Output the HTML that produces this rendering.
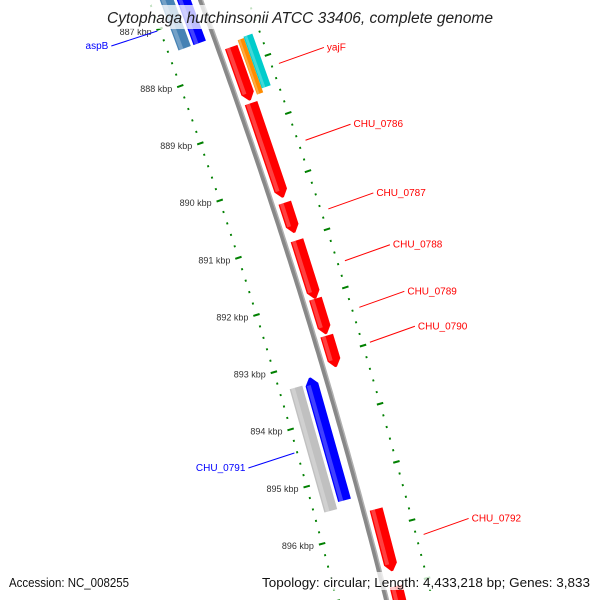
<!DOCTYPE html>
<html><head><meta charset="utf-8"><style>
body{margin:0;background:#fff;overflow:hidden}
svg{display:block;font-family:"Liberation Sans",sans-serif}
</style></head><body>
<svg id="map" width="600" height="600" viewBox="0 0 600 600" xmlns="http://www.w3.org/2000/svg"></svg>
<script>
const geneNames=["top-blue","top-steel","red1","orange","cyan","CHU_0786","CHU_0787","CHU_0788","CHU_0789","CHU_0790","gray","CHU_0791","CHU_0792","red-next"];
const geneStarts=[886.13,886.13,887.68,887.61,887.59,888.65,890.37,891.02,892.03,892.67,893.35,893.26,895.67,897.0];
const geneEnds=[887.44,887.44,888.60,888.55,888.48,890.28,890.89,892.03,892.64,893.21,895.50,895.39,896.74,898.6];
const geneStrand=[-1,0,1,0,0,1,1,1,1,1,0,-1,1,1];
const geneTrack=["b","a","r","o","c","r","r","r","r","r","a","b","r","r"];
const geneColors=["#0000ff","#4682b4","#ff0000","#ff8c00","#00cccc","#ff0000","#ff0000","#ff0000","#ff0000","#ff0000","#c0c0c0","#0000ff","#ff0000","#ff0000"];
const tickKbp=[887,888,889,890,891,892,893,894,895,896];
const labelNames=["yajF","CHU_0786","CHU_0787","CHU_0788","CHU_0789","CHU_0790","CHU_0792"];
const labelKbp=[888.19,889.51,890.69,891.58,892.38,892.98,896.28];
const leftLabelNames=["CHU_0791","aspB"];
const leftLabelKbp=[894.4,887.02];

const NS="http://www.w3.org/2000/svg";
const svg=document.getElementById('map');
const trackOff={r:[6,20],o:[22,29],c:[29,39],a:[-41,-27],b:[-24,-10]};
function bx(y){return 201+0.37*y-0.0001*y*y;}
function slope(y){return 0.37-0.0002*y;}
function yOf(k){return 12+(k-887)*57.7;}
function P(k,h){const y=yOf(k),s=slope(y),n=Math.sqrt(1+s*s),d=h*0.94;return [bx(y)+d/n,y-d*s/n];}
function el(t,a,parent){const e=document.createElementNS(NS,t);for(const k in a)e.setAttribute(k,a[k]);(parent||svg).appendChild(e);return e;}
function pts(a){return a.map(p=>p[0].toFixed(1)+","+p[1].toFixed(1)).join(" ");}

let bb=[],bb2=[];
for(let k=886;k<=898.8;k+=0.1){bb.push(P(k,-1));bb2.push(P(k,1.5));}
let b=el('polyline',{points:pts(bb),fill:'none',stroke:'#888',"stroke-width":4});

let b2=el('polyline',{points:pts(bb2),fill:'none',stroke:'#b0b0b0',"stroke-width":1.5});


for(let i=0;i<=70;i++){
  const kk=Math.round((886+i*0.2)*10)/10;
  const major=Math.abs(kk-Math.round(kk))<0.01, half=Math.abs(kk*2-Math.round(kk*2))<0.01;
  [-52,47].forEach(h=>{
    const len=major?3.5:(half&&h>0?3:1);
    const a=P(kk,h-len),c=P(kk,h+len);
    const t=el('line',{x1:a[0],y1:a[1],x2:c[0],y2:c[1],stroke:'#008000',"stroke-width":2});
    
  });
}
tickKbp.forEach(k=>{
  const p=P(k,-61);
  const t=el('text',{x:p[0],y:p[1]+3,"font-size":9,fill:'#333',"text-anchor":'end'});
  t.textContent=k+" kbp";
  
});

geneStarts.forEach((s,i)=>{
  const e=geneEnds[i],o=trackOff[geneTrack[i]],d1=o[0],d2=o[1],m=(d1+d2)/2,a=0.12;
  let poly;
  if(geneStrand[i]===1)poly=[P(s,d1),P(s,d2),P(e-a,d2),P(e,m+1),P(e,m-1),P(e-a,d1)];
  else if(geneStrand[i]===-1)poly=[P(s+a,d1),P(s,m-1),P(s,m+1),P(s+a,d2),P(e,d2),P(e,d1)];
  else poly=[P(s,d1),P(s,d2),P(e,d2),P(e,d1)];
  const g=el('polygon',{points:pts(poly),fill:geneColors[i]});
  
  const w=(d2-d1),hs=d1+w*0.1,he=d1+w*0.4;
  const ss=s+(geneStrand[i]===-1?a:0),ee=e-(geneStrand[i]===1?a:0);
  const hl=el('polygon',{points:pts([P(ss,hs),P(ss,he),P(ee,he),P(ee,hs)]),fill:'#fff',opacity:0.25});
  
});

labelNames.forEach((n,i)=>{
  const a=P(labelKbp[i],55);const bxp=a[0]+45,byp=a[1]-16;
  const l=el('line',{x1:a[0],y1:a[1],x2:bxp,y2:byp,stroke:'#f00',"stroke-width":1});
  
  const t=el('text',{x:bxp+3,y:byp+3,"font-size":10,fill:'#f00'});t.textContent=n;
  
});
leftLabelNames.forEach((n,i)=>{
  const a=P(leftLabelKbp[i],-55);const ex=a[0]-46,ey=a[1]+15;
  const l=el('line',{x1:a[0],y1:a[1],x2:ex,y2:ey,stroke:'#00f',"stroke-width":1});
  
  const t=el('text',{x:ex-3,y:ey+3,"font-size":10,fill:'#00f',"text-anchor":'end'});t.textContent=n;
  
});

let r=el('rect',{x:100,y:5,width:400,height:24,fill:'#fff',opacity:0.75});

let tt=el('text',{x:107,y:23,"font-size":15.5,"font-style":'italic',fill:'#222',textLength:386,lengthAdjust:'spacingAndGlyphs'});
tt.textContent="Cytophaga hutchinsonii ATCC 33406, complete genome";

let r2=el('rect',{x:4,y:572,width:592,height:18,fill:'#fff',opacity:0.75});

let f1=el('text',{x:9,y:587,"font-size":12.5,fill:'#111',textLength:120,lengthAdjust:'spacingAndGlyphs'});f1.textContent="Accession: NC_008255";

let f2=el('text',{x:262,y:587,"font-size":13,fill:'#111',textLength:328,lengthAdjust:'spacingAndGlyphs'});f2.textContent="Topology: circular; Length: 4,433,218 bp; Genes: 3,833";

</script>
</body></html>
